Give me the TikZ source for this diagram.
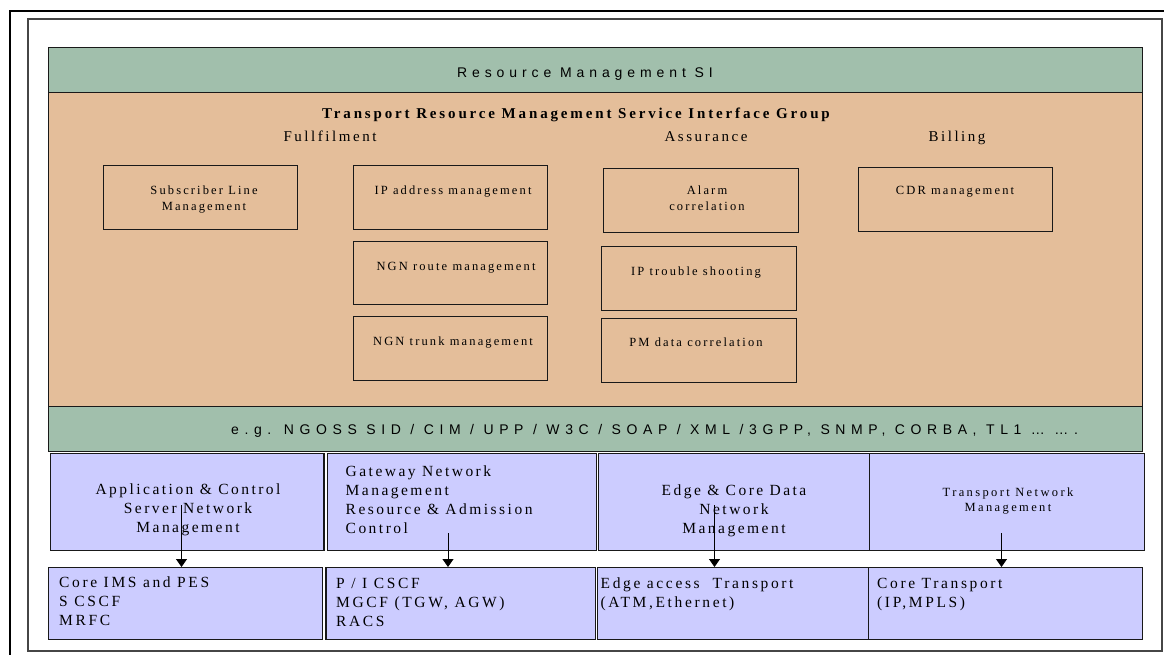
\documentclass[tikz,border=0pt]{standalone}
\usepackage{fontspec}
\newfontfamily\serifsp{Liberation Serif}[LetterSpace=17]
\newfontfamily\serifwide{Liberation Serif}[LetterSpace=19]
\newfontfamily\seriflayer{Liberation Serif}[LetterSpace=16]
\newfontfamily\sansband{Liberation Sans}[LetterSpace=35]
\newfontfamily\sansstd{Liberation Sans}[LetterSpace=40]
\usetikzlibrary{arrows.meta}
\definecolor{bandgreen}{RGB}{161,191,172}
\definecolor{groupfill}{RGB}{228,190,154}
\definecolor{layerfill}{RGB}{204,204,255}
\definecolor{edgeline}{RGB}{25,25,25}
\definecolor{framegray}{RGB}{70,70,70}
\begin{document}
\begin{tikzpicture}[x=1pt,y=-1pt,
  band/.style={draw=edgeline, line width=1pt, fill=bandgreen, inner sep=0pt, anchor=north west},
  group/.style={draw=edgeline, line width=1pt, fill=groupfill, inner sep=0pt, anchor=north west},
  svcbox/.style={draw=edgeline, line width=1.3pt, inner sep=0pt, anchor=north west,
    minimum width=194pt, minimum height=64pt},
  layer/.style={draw=edgeline, line width=1.2pt, fill=layerfill, inner sep=0pt, anchor=north west},
  % multi-line nodes sit on the baseline of their last line
  txt/.style={inner sep=0pt, anchor=base, align=center, text=black},
  ltxt/.style={inner sep=0pt, anchor=base west, align=left, text=black},
  headfont/.style={font=\serifsp\fontsize{15}{18}\selectfont},
  boxfont/.style={font=\serifsp\fontsize{12.5}{16.5}\selectfont},
  layerfont/.style={font=\seriflayer\fontsize{15.5}{19}\selectfont},
  elemfont/.style={font=\serifsp\fontsize{15.5}{19}\selectfont},
  smallfont/.style={font=\serifwide\fontsize{12.5}{15.7}\selectfont},
  flow/.style={draw=black, line width=0.9pt, -{Triangle[width=11pt,length=8pt]}}
]
\useasboundingbox (0,0) rectangle (1164,655);
\fill[white] (0,0) rectangle (1164,655);

% frames
\draw[line width=2.5pt, black] (10,657) -- (10,11) -- (1166,11);
\draw[line width=1.2pt, framegray] (28,19) rectangle (1162,651);

% bands and group panel
\node[band, minimum width=1094pt, minimum height=45pt] (rmsi) at (48,47) {};
\node[group, minimum width=1094pt, minimum height=314pt] (grp) at (48,92) {};
\node[band, minimum width=1094pt, minimum height=45pt] (std) at (48,406) {};

\node[txt, font=\sansband\fontsize{14}{17}\selectfont] (rmsitxt) at (585,78) {Resource Management SI};
\node[ltxt, font=\sansstd\fontsize{14}{17}\selectfont] (stdtxt) at (231,434)
  {e.g. NGOSS SID / CIM / UPP / W3C / SOAP / XML /3GPP, SNMP, CORBA, TL1 … ….};

% group heading
\node[txt, font=\serifwide\bfseries\fontsize{15}{18}\selectfont] (grptitle) at (576,118.5)
  {Transport Resource Management Service Interface Group};
\node[txt, headfont] (ful) at (330,142) {Fullfilment};
\node[txt, headfont] (ass) at (706,142) {Assurance};
\node[txt, headfont] (bil) at (957,142) {Billing};

% service boxes
\node[svcbox] (subl) at (103,165) {};
\node[svcbox] (ipad) at (353,165) {};
\node[svcbox, minimum height=63pt] (ngnr) at (353,241) {};
\node[svcbox] (ngnt) at (353,316) {};
\node[svcbox, minimum width=195pt] (alarm) at (603,168) {};
\node[svcbox, minimum width=195pt] (iptr) at (601,246) {};
\node[svcbox, minimum width=195pt] (pmdc) at (601,318) {};
\node[svcbox] (cdr) at (858,167) {};

\node[txt, boxfont] (subltxt) at (204,211) {Subscriber Line\\Management};
\node[txt, boxfont] (ipadtxt) at (453,194) {IP address management};
\node[txt, boxfont] (ngnrtxt) at (456,270) {NGN route management};
\node[txt, boxfont] (ngnttxt) at (453,345) {NGN trunk management};
\node[txt, boxfont] (alarmtxt) at (707,211) {Alarm\\correlation};
\node[txt, boxfont] (iptrtxt) at (696,275) {IP trouble shooting};
\node[txt, boxfont] (pmdctxt) at (696,346) {PM data correlation};
\node[txt, boxfont] (cdrtxt) at (955,195) {CDR management};

% management layer
\node[layer, minimum width=273.3pt, minimum height=97.5pt] (acm) at (50,452.5) {};
\node[layer, minimum width=268.8pt, minimum height=97.5pt] (gwm) at (326.7,452.5) {};
\node[layer, minimum width=271.5pt, minimum height=97.5pt] (edm) at (597.5,452.5) {};
\node[layer, minimum width=275pt, minimum height=97.5pt] (tnm) at (869,452.5) {};

\node[txt, layerfont] (acmtxt) at (188,532.3) {Application \& Control\\Server Network\\Management};
\node[ltxt, layerfont] (gwmtxt) at (345.5,533) {Gateway Network\\Management\\Resource \& Admission\\Control};
\node[txt, layerfont] (edmtxt) at (734,533.5) {Edge \& Core Data\\Network\\Management};
\node[txt, smallfont] (tnmtxt) at (1008,511.7) {Transport Network\\Management};

% network element layer
\node[layer, minimum width=274pt, minimum height=72pt] (ims) at (48,567) {};
\node[layer, minimum width=269.2pt, minimum height=72pt] (pcs) at (325.3,567) {};
\node[layer, minimum width=271.2pt, minimum height=72pt] (eat) at (596.5,567) {};
\node[layer, minimum width=274.3pt, minimum height=72pt] (ctr) at (867.7,567) {};

\node[ltxt, elemfont] (imstxt) at (59,625.7) {Core IMS and PES\\S CSCF\\MRFC};
\node[ltxt, elemfont] (pcstxt) at (336,626.3) {P / I CSCF\\MGCF (TGW, AGW)\\RACS};
\node[ltxt, elemfont] (eattxt) at (600.5,607.5) {Edge access\ \ Transport\\(ATM,Ethernet)};
\node[ltxt, elemfont] (ctrtxt) at (877,607.5) {Core Transport\\(IP,MPLS)};

% control flows from management to network elements
\coordinate (f1) at (181.5,505);
\coordinate (f2) at (448,533);
\coordinate (f3) at (714.5,505);
\coordinate (f4) at (1001.5,533);
\draw[flow] (f1) -- (f1 |- ims.north);
\draw[flow] (f2) -- (f2 |- pcs.north);
\draw[flow] (f3) -- (f3 |- eat.north);
\draw[flow] (f4) -- (f4 |- ctr.north);
\end{tikzpicture}
\end{document}
